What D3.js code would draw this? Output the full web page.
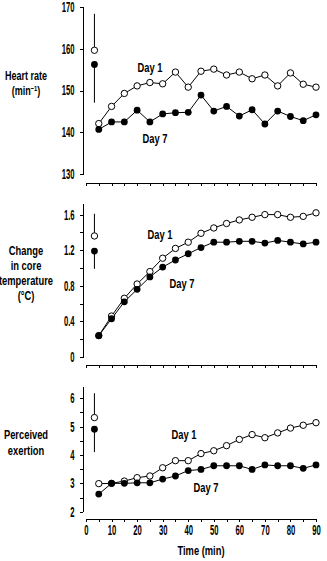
<!DOCTYPE html>
<html>
<head>
<meta charset="utf-8">
<script src="https://cdn.jsdelivr.net/npm/d3@7"></script>
<style>
  html, body { margin: 0; padding: 0; background: #fff; }
  svg { display: block; }
  text { font-family: "Liberation Sans", Arial, sans-serif; font-weight: bold; fill: #000; }
</style>
</head>
<body>
<svg id="chart" width="327" height="561"></svg>
<script>
// ---------- data ----------
const times = [5, 10, 15, 20, 25, 30, 35, 40, 45, 50, 55, 60, 65, 70, 75, 80, 85, 90];
const xTicks = [0, 5, 10, 15, 20, 25, 30, 35, 40, 45, 50, 55, 60, 65, 70, 75, 80, 85, 90];
const xTickLabels = [0, 10, 20, 30, 40, 50, 60, 70, 80, 90];
const preTime = 3.3;

const hrDay1 = [142.1, 146.2, 149.3, 151.1, 151.9, 151.6, 154.4, 150.8, 154.6, 155.1, 153.7, 154.4, 152.8, 153.7, 151.1, 154.2, 151.5, 150.8];
const hrDay7 = [140.7, 142.5, 142.5, 145.3, 142.5, 144.4, 144.7, 144.8, 148.9, 145.1, 146.2, 143.9, 145.4, 142.0, 145.1, 143.8, 142.8, 144.2];
const hrPre = [159.6, 156.2];
const hrPreBar = [168.3, 147.1];
const hrTicks = [130, 140, 150, 160, 170];

const tempDay1 = [0.24, 0.46, 0.66, 0.82, 0.96, 1.11, 1.22, 1.29, 1.39, 1.45, 1.50, 1.54, 1.57, 1.60, 1.60, 1.57, 1.58, 1.62];
const tempDay7 = [0.24, 0.43, 0.62, 0.76, 0.90, 1.01, 1.09, 1.16, 1.23, 1.29, 1.29, 1.30, 1.30, 1.28, 1.31, 1.29, 1.27, 1.29];
const tempPre = [1.36, 1.19];
const tempPreBar = [1.61, 0.99];
const tempTicks = [0, 0.2, 0.4, 0.6, 0.8, 1.0, 1.2, 1.4, 1.6];
const tempTickLabels = ["0", "", "0.4", "", "0.8", "", "1.2", "", "1.6"];

const rpeDay1 = [2.99, 3.0, 3.08, 3.2, 3.26, 3.55, 3.8, 3.8, 4.05, 4.15, 4.33, 4.55, 4.72, 4.61, 4.78, 4.95, 5.05, 5.14];
const rpeDay7 = [2.62, 3.0, 3.0, 3.02, 3.02, 3.15, 3.26, 3.45, 3.49, 3.62, 3.62, 3.62, 3.49, 3.65, 3.62, 3.62, 3.53, 3.65];
const rpePre = [5.32, 4.91];
const rpePreBar = [6.18, 4.10];
const rpeTicks = [2, 2.5, 3, 3.5, 4, 4.5, 5, 5.5, 6];
const rpeTickLabels = ["2", "", "3", "", "4", "", "5", "", "6"];

const seriesNames = ["Day 1", "Day 7"];

// ---------- layout ----------
const svg = d3.select("#chart");
const axisX = 83;
const x = d3.scaleLinear().domain([0, 90]).range([86, 316]);
const TICK_SX = 0.55, LABEL_SX = 0.72;

const panels = [
  { d1: hrDay1, d7: hrDay7, pre: hrPre, preBar: hrPreBar, ticks: hrTicks, tickLabels: hrTicks.map(String),
    domain: [130, 170], range: [174.3, 6.7], xAxisY: 182.5, showXLabels: false,
    ylabel: ["Heart rate", "(min|−1|)"], ylabelY: [80, 95], ylabelSize: 12.5,
    dayPos: [[150, 72], [155, 143]] },
  { d1: tempDay1, d7: tempDay7, pre: tempPre, preBar: tempPreBar, ticks: tempTicks, tickLabels: tempTickLabels,
    domain: [0, 1.72], range: [357, 357 - 1.72 * (142.4 / 1.6)], xAxisY: 365, showXLabels: false,
    ylabel: ["Change", "in core", "temperature", "(°C)"], ylabelY: [255, 270, 285, 300], ylabelSize: 13,
    dayPos: [[160, 239], [182, 288]] },
  { d1: rpeDay1, d7: rpeDay7, pre: rpePre, preBar: rpePreBar, ticks: rpeTicks, tickLabels: rpeTickLabels,
    domain: [2, 6.4], range: [511.7, 511.7 - 4.4 * (113.4 / 4)], xAxisY: 519, showXLabels: true,
    ylabel: ["Perceived", "exertion"], ylabelY: [439, 455], ylabelSize: 13,
    dayPos: [[184, 439], [206, 492]] }
];

function styleAxis(g) {
  g.selectAll("path, line").attr("stroke", "#000").attr("stroke-width", 1).attr("shape-rendering", "crispEdges");
}

function condensedText(sel, x0, y0, str, anchor, size, sx) {
  const t = sel.append("text")
    .attr("transform", `translate(${x0},${y0}) scale(${sx},1)`)
    .attr("text-anchor", anchor)
    .style("font-size", size + "px");
  const parts = str.split("|");
  parts.forEach((p, i) => {
    if (i % 2 === 1) {
      t.append("tspan").attr("dy", -4).style("font-size", (size * 0.65) + "px").text(p);
    } else {
      const ts = t.append("tspan").text(p);
      if (i > 0) ts.attr("dy", 4);
    }
  });
  return t;
}

panels.forEach(p => {
  const y = d3.scaleLinear().domain(p.domain).range(p.range);

  // y axis
  const yAxis = d3.axisLeft(y).tickValues(p.ticks).tickSize(3).tickSizeOuter(0).tickPadding(5.4)
    .tickFormat((d, i) => p.tickLabels[i]);
  const gy = svg.append("g").attr("transform", `translate(${axisX},0)`).call(yAxis);
  styleAxis(gy);
  gy.selectAll("text")
    .attr("font-family", null).attr("font-size", null)
    .style("font-size", "14px")
    .attr("transform", `scale(${TICK_SX},1)`)
    .attr("x", -8.4 / TICK_SX);

  // x axis
  const xAxis = d3.axisBottom(x).tickValues(xTicks).tickSize(3).tickSizeOuter(0).tickPadding(3)
    .tickFormat(d => (p.showXLabels && xTickLabels.includes(d)) ? String(d) : "");
  const gx = svg.append("g").attr("transform", `translate(0,${p.xAxisY})`).call(xAxis);
  styleAxis(gx);
  gx.selectAll("text")
    .attr("font-family", null).attr("font-size", null)
    .style("font-size", "14px")
    .attr("transform", `scale(${TICK_SX},1)`);

  // pre-exercise error bars
  p.pre.forEach((v, i) => {
    svg.append("line")
      .attr("x1", x(preTime)).attr("x2", x(preTime))
      .attr("y1", y(v)).attr("y2", y(p.preBar[i]))
      .attr("stroke", "#000").attr("stroke-width", 1);
  });
  svg.append("circle").attr("cx", x(preTime)).attr("cy", y(p.pre[0])).attr("r", 3.2)
    .attr("fill", "#fff").attr("stroke", "#000").attr("stroke-width", 1);
  svg.append("circle").attr("cx", x(preTime)).attr("cy", y(p.pre[1])).attr("r", 3.4)
    .attr("fill", "#000");

  // lines
  const line = d3.line().x((d, i) => x(times[i])).y(d => y(d));
  [p.d1, p.d7].forEach(s => {
    svg.append("path").datum(s).attr("d", line)
      .attr("fill", "none").attr("stroke", "#000").attr("stroke-width", 1);
  });
  svg.append("g").selectAll("circle").data(p.d1).join("circle")
    .attr("cx", (d, i) => x(times[i])).attr("cy", d => y(d)).attr("r", 3.2)
    .attr("fill", "#fff").attr("stroke", "#000").attr("stroke-width", 1);
  svg.append("g").selectAll("circle").data(p.d7).join("circle")
    .attr("cx", (d, i) => x(times[i])).attr("cy", d => y(d)).attr("r", 3.4)
    .attr("fill", "#000");

  // series labels
  seriesNames.forEach((n, i) => {
    condensedText(svg, p.dayPos[i][0], p.dayPos[i][1], n, "middle", 13, LABEL_SX);
  });

  // y label
  p.ylabel.forEach((s, i) => {
    condensedText(svg, 26, p.ylabelY[i], s, "middle", p.ylabelSize, LABEL_SX);
  });
});

// x axis title
condensedText(svg, x(45), 555, "Time (min)", "middle", 13, LABEL_SX);
</script>
</body>
</html>
